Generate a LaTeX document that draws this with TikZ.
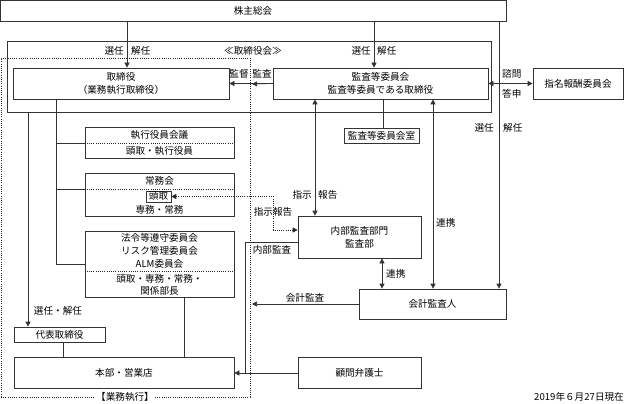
\documentclass[tikz,border=0pt]{standalone}
\usepackage{fontspec}
\setmainfont{Noto Sans CJK JP}
\usetikzlibrary{arrows.meta}
\begin{document}
\begin{tikzpicture}[x=1pt,y=-1pt,
  font=\fontsize{9.6}{13}\selectfont,
  box/.style={draw=black!80, line width=0.7pt, inner sep=0pt, align=center},
  ln/.style={draw=black!80, line width=0.7pt},
  arr/.style={ln, -{Triangle[length=5pt,width=5pt]}},
  darr/.style={ln, {Triangle[length=5pt,width=5pt]}-{Triangle[length=5pt,width=5pt]}},
  dotln/.style={draw=black!85, line width=0.8pt, dash pattern=on 1pt off 1.2pt},
  lbl/.style={inner sep=0pt}]
\useasboundingbox (0,0) rectangle (625,404);

% frames
\node[box, dotln, minimum width=249, minimum height=339] (gyomu) at (125.5,227.5) {};
\node[box, minimum width=484, minimum height=71] (board) at (249,76.5) {};

% boxes
\node[box, minimum width=506, minimum height=21] (kabu) at (253,10.5) {株主総会};
\node[box, minimum width=216, minimum height=31] (tori) at (121,83.5) {取締役\\（業務執行取締役）};
\node[box, minimum width=215, minimum height=31] (kansa) at (380.5,83.5) {監査等委員会\\監査等委員である取締役};
\node[box, minimum width=90, minimum height=31] (shimei) at (578,83.5) {指名報酬委員会};
\node[box, minimum width=75, minimum height=15] (shitsu) at (381.5,135.5) {監査等委員会室};
\node[box, minimum width=149, minimum height=31] (shikkou) at (159.5,142.5) {};
\node[box, minimum width=149, minimum height=43] (jomu) at (159.5,194.5) {};
\node[box, minimum width=149, minimum height=66] (hourei) at (159.5,264) {};
\node[box, minimum width=91, minimum height=15] (daihyo) at (59.5,334.5) {代表取締役};
\node[box, minimum width=220, minimum height=31] (honbu) at (124,372.5) {本部・営業店};
\node[box, minimum width=123, minimum height=42] (naibu) at (359.5,237) {内部監査部門\\監査部};
\node[box, minimum width=147, minimum height=30] (kaikei) at (432.5,304) {会計監査人};
\node[box, minimum width=123, minimum height=31] (komon) at (359.5,372.5) {顧問弁護士};
\node[box, minimum width=25, minimum height=11] (todori) at (158.5,196.5) {頭取};

% inner dividers and texts
\draw[dotln] (shikkou.west |- 0,143) -- (shikkou.east |- 0,143);
\node[lbl] (t1) at (159.5,135) {執行役員会議};
\node[lbl] (t2) at (159.5,151) {頭取・執行役員};
\draw[dotln] (jomu.west |- 0,189) -- (jomu.east |- 0,189);
\node[lbl] (t3) at (159.5,181) {常務会};
\node[lbl] (t4) at (159.5,210) {専務・常務};
\draw[dotln] (hourei.west |- 0,271) -- (hourei.east |- 0,271);
\node[lbl] (t5) at (159.5,238) {法令等遵守委員会};
\node[lbl] (t6) at (159.5,251) {リスク管理委員会};
\node[lbl] (t7) at (159.5,263.5) {ALM委員会};
\node[lbl] (t8) at (159.5,278.5) {頭取・専務・常務・};
\node[lbl] (t9) at (159.5,291) {関係部長};

% coordinates
\coordinate (xa) at (127,0);
\coordinate (xb) at (374,0);
\coordinate (xc) at (499,0);
\coordinate (xd) at (28,0);
\coordinate (xe) at (56,0);
\coordinate (xf) at (383,0);
\coordinate (xg) at (315,0);
\coordinate (xh) at (433,0);
\coordinate (xi) at (382,0);
\coordinate (xj) at (63,0);
\coordinate (xk) at (184,0);
\coordinate (dotmid) at (252,84);
\coordinate (kaimid) at (252,304);
\coordinate (ntop) at (245,242);
\coordinate (nbot) at (245,373);
\coordinate (dr1) at (273,196.5);
\coordinate (dr2) at (273,230);
\coordinate (ybr) at (0,264);

% connectors
\draw[arr] (kabu.south -| xa) -- (tori.north -| xa);
\draw[arr] (kabu.south -| xb) -- (kansa.north -| xb);
\draw[arr] (kabu.south -| xc) -- (kaikei.north -| xc);
\draw[arr] (kansa.west) -- (tori.east);
\draw[arr] (kansa.west) -- (dotmid);
\draw[darr] (kansa.east) -- (shimei.west);
\draw[arr] (board.south -| xd) -- (daihyo.north -| xd);
\draw[ln] (tori.south -| xe) -- (xe |- ybr) -- (hourei.west |- ybr);
\draw[ln] (xe |- 0,143) -- (shikkou.west |- 0,143);
\draw[ln] (xe |- 0,189) -- (jomu.west |- 0,189);
\draw[ln] (kansa.south -| xf) -- (shitsu.north -| xf);
\draw[darr] (kansa.south -| xg) -- (naibu.north -| xg);
\draw[darr] (kansa.south -| xh) -- (kaikei.north -| xh);
\draw[darr] (naibu.south -| xi) -- (kaikei.north -| xi);
\draw[arr] (kaikei.west) -- (kaimid);
\draw[ln] (naibu.west |- ntop) -- (ntop) -- (nbot);
\draw[arr] (komon.west |- nbot) -- (honbu.east |- nbot);
\draw[ln] (daihyo.south -| xj) -- (honbu.north -| xj);
\draw[ln] (hourei.south -| xk) -- (honbu.north -| xk);
\draw[dotln, {Triangle[length=5pt,width=5pt]}-{Triangle[length=5pt,width=5pt]}] (todori.east) -- (dr1) -- (dr2) -- (naibu.west |- dr2);

% labels
\node[lbl] (l1) at (253,51) {≪取締役会≫};
\node[lbl, anchor=east] (l2) at (124,51) {選任};
\node[lbl, anchor=west] (l3) at (131,51) {解任};
\node[lbl, anchor=east] (l4) at (371,51) {選任};
\node[lbl, anchor=west] (l5) at (377,51) {解任};
\node[lbl] (l6) at (239,74) {監督};
\node[lbl] (l7) at (262,74) {監査};
\node[lbl, anchor=west] (l8) at (502,74) {諮問};
\node[lbl, anchor=west] (l9) at (502,94) {答申};
\node[lbl, anchor=east] (l10) at (494,128) {選任};
\node[lbl, anchor=west] (l11) at (503,128) {解任};
\node[lbl, anchor=east] (l12) at (312,195) {指示};
\node[lbl, anchor=west] (l13) at (318,195) {報告};
\node[lbl] (l14) at (273,212) {指示報告};
\node[lbl] (l15) at (272,250) {内部監査};
\node[lbl, anchor=west] (l16) at (436,223) {連携};
\node[lbl, anchor=west] (l17) at (386,274) {連携};
\node[lbl] (l18) at (305,298) {会計監査};
\node[lbl] (l19) at (58,311) {選任・解任};
\node[lbl, fill=white, inner xsep=1pt] (l20) at (125,397) {【業務執行】};
\node[lbl, anchor=east] (l21) at (624,397) {2019年６月27日現在};
\end{tikzpicture}
\end{document}
